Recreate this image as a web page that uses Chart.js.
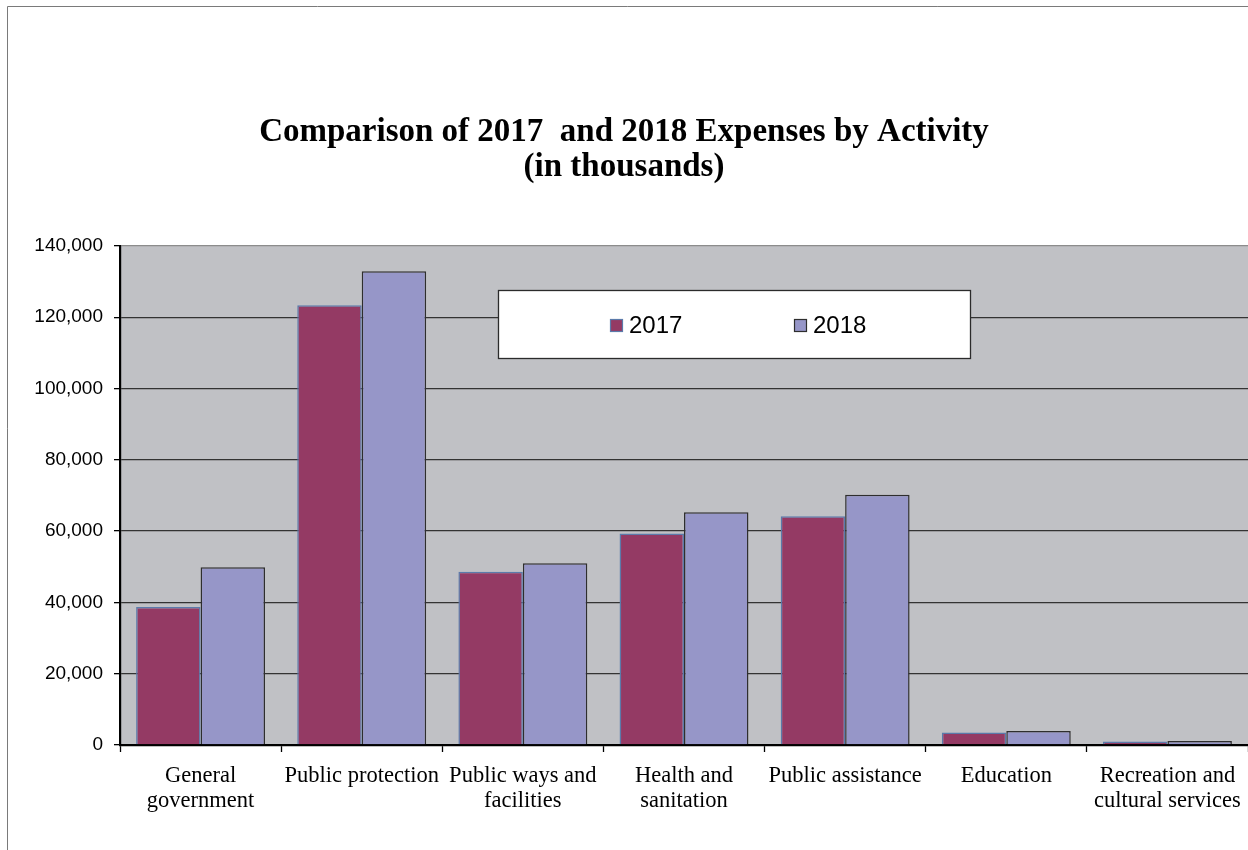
<!DOCTYPE html>
<html>
<head>
<meta charset="utf-8">
<script src="https://cdn.jsdelivr.net/npm/chart.js@4.4.1/dist/chart.umd.min.js"></script>
<style>
  html, body { margin: 0; padding: 0; background: #fff; }
  #wrap { width: 1248px; height: 850px; }
</style>
</head>
<body>
<div id="wrap"><canvas id="c" width="1248" height="850"></canvas></div>
<script>
const categories = [
  ["General", "government"],
  ["Public protection"],
  ["Public ways and", "facilities"],
  ["Health and", "sanitation"],
  ["Public assistance"],
  ["Education"],
  ["Recreation and", "cultural services"]
];
const seriesLabels = ["2017", "2018"];
const values2017 = [38700, 123400, 48600, 59300, 64200, 3500, 1000];
const values2018 = [49900, 132900, 51000, 65300, 70200, 3900, 1150];
const titleLines = ["Comparison of 2017  and 2018 Expenses by Activity", "(in thousands)"];
const yMax = 140000;
const yStep = 20000;

const colors = {
  fill2017: "#943A64",
  border2017: "#5B7AAA",
  fill2018: "#9696C8",
  border2018: "#2E2E2E",
  plotBg: "#C0C1C5"
};

const framePlugin = {
  id: "framePlugin",
  beforeDraw(chart) {
    const ctx = chart.ctx;
    const a = chart.chartArea;
    ctx.save();
    ctx.fillStyle = colors.plotBg;
    ctx.fillRect(a.left, a.top, a.right - a.left, a.bottom - a.top);
    ctx.strokeStyle = "#7a7a7a";
    ctx.lineWidth = 1;
    ctx.beginPath();
    ctx.moveTo(7.5, chart.height);
    ctx.lineTo(7.5, 6.5);
    ctx.lineTo(chart.width, 6.5);
    ctx.stroke();
    ctx.restore();
  }
};

const legendBoxPlugin = {
  id: "legendBoxPlugin",
  afterDatasetsDraw(chart) {
    const ctx = chart.ctx;
    ctx.save();
    const bx = 498.5, by = 290.5, bw = 472, bh = 68;
    ctx.fillStyle = "#ffffff";
    ctx.fillRect(bx, by, bw, bh);
    ctx.strokeStyle = "#2b2b2b";
    ctx.lineWidth = 1.3;
    ctx.strokeRect(bx, by, bw, bh);
    const itemX = [610, 794];
    const sq = 13, sqY = 319;
    ctx.font = "24px 'Liberation Sans', Arial, sans-serif";
    ctx.textBaseline = "middle";
    ctx.textAlign = "left";
    chart.data.datasets.forEach((ds, i) => {
      const x = itemX[i];
      ctx.fillStyle = ds.backgroundColor;
      ctx.fillRect(x, sqY, sq, sq);
      ctx.strokeStyle = ds.borderColor;
      ctx.lineWidth = 1.2;
      ctx.strokeRect(x + 0.5, sqY + 0.5, sq - 1, sq - 1);
      ctx.fillStyle = "#000";
      ctx.fillText(ds.label, x + sq + 6, sqY + sq / 2 + 1);
    });
    ctx.restore();
  }
};

new Chart(document.getElementById("c"), {
  type: "bar",
  data: {
    labels: categories,
    datasets: [
      {
        label: seriesLabels[0],
        data: values2017,
        backgroundColor: colors.fill2017,
        borderColor: colors.border2017,
        borderWidth: 1.5,
        categoryPercentage: 0.8,
        barPercentage: 1.0
      },
      {
        label: seriesLabels[1],
        data: values2018,
        backgroundColor: colors.fill2018,
        borderColor: colors.border2018,
        borderWidth: 1.5,
        categoryPercentage: 0.8,
        barPercentage: 1.0
      }
    ]
  },
  options: {
    responsive: false,
    devicePixelRatio: 1,
    animation: false,
    layout: { padding: { left: 0, right: 0, top: 0, bottom: 0 } },
    plugins: {
      legend: { display: false },
      tooltip: { enabled: false },
      title: {
        display: true,
        text: titleLines,
        color: "#000",
        font: { family: "'Liberation Serif', 'Times New Roman', serif", size: 33, weight: "bold", lineHeight: 1.06 },
        padding: { top: 114.5, bottom: 61.5 }
      }
    },
    scales: {
      x: {
        grid: {
          offset: true,
          drawOnChartArea: false,
          drawTicks: true,
          tickLength: 7,
          tickColor: "#000",
          tickWidth: 1.3
        },
        border: { display: true, color: "#000", width: 2.2 },
        ticks: {
          color: "#000",
          font: { family: "'Liberation Serif', 'Times New Roman', serif", size: 22.5, lineHeight: 1.12 },
          padding: 11,
          maxRotation: 0,
          minRotation: 0,
          autoSkip: false
        },
        afterFit(scale) {
          scale.height = 105;
          scale.paddingRight = 0;
          scale.paddingLeft = 0;
        }
      },
      y: {
        min: 0,
        max: yMax,
        grid: {
          color: (c) => (c.tick && c.tick.value === yMax) ? "#8c8c8c" : "#333333",
          lineWidth: 1.3,
          drawTicks: true,
          tickLength: 6,
          tickColor: "#000"
        },
        border: { display: true, color: "#000", width: 2.2 },
        ticks: {
          stepSize: yStep,
          color: "#000",
          font: { family: "'Liberation Sans', Arial, sans-serif", size: 19 },
          padding: 11,
          callback: (v) => v.toLocaleString("en-US")
        },
        afterFit(scale) { scale.width = 120; }
      }
    }
  },
  plugins: [framePlugin, legendBoxPlugin]
});
</script>
</body>
</html>
